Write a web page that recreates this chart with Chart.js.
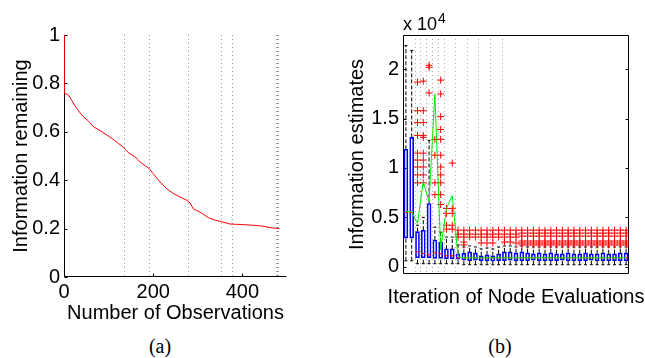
<!DOCTYPE html>
<html><head><meta charset="utf-8">
<script src="https://cdn.jsdelivr.net/npm/chart.js@4.4.0/dist/chart.umd.min.js"></script>
<style>
html,body{margin:0;padding:0;background:#fff;width:645px;height:358px;overflow:hidden;position:relative;}
canvas{position:absolute;top:0;}
#c1{left:0px}
#c2{left:325px}
.t{position:absolute;font-family:"Liberation Sans",Arial,sans-serif;color:#000;white-space:nowrap;}
.cap{position:absolute;font-family:"Liberation Serif","Times New Roman",serif;font-size:20px;line-height:20px;width:60px;text-align:center;color:#000;}
</style></head>
<body>
<canvas id="c1" width="320" height="325"></canvas>
<canvas id="c2" width="320" height="325"></canvas>
<div class="t" style="left:366px;top:284px;width:300px;text-align:center;font-size:20px;line-height:24px;">Iteration of Node Evaluations</div>
<div class="t" style="left:403px;top:15px;font-size:18px;line-height:18px;">x 10</div>
<div class="t" style="left:438px;top:11px;font-size:14px;line-height:14px;">4</div>
<div class="cap" style="left:130px;top:336px;">(a)</div>
<div class="cap" style="left:470px;top:336px;">(b)</div>
<script>
// ---------- (a) Information remaining vs number of observations ----------
const observations = [0,0,10,17,28,43,54,66,85,107,122,133,144,159,167,170,191,200,215,230,245,260,275,281,290,305,324,339,354,372,395,424,447,462,483];
const infoRemaining = [1,0.76,0.752,0.731,0.697,0.663,0.646,0.621,0.600,0.573,0.552,0.536,0.514,0.497,0.483,0.476,0.448,0.427,0.393,0.365,0.345,0.331,0.317,0.310,0.282,0.268,0.245,0.235,0.228,0.219,0.217,0.214,0.210,0.204,0.200];
const evalMarkersA = [135,191,279,353,376,476,478,480];
const obsTicks = [0,200,400];
const obsTickLabels = ['0','200','400'];
const remTicks = [0,0.2,0.4,0.6,0.8,1];
const remTickLabels = ['0','0.2','0.4','0.6','0.8','1'];

// ---------- (b) Information estimates (x 10^4) per iteration ----------
const iterations = [1,2,3,4,5,6,7,8,9,10,11,12,13,14,15,16,17,18,19,20,21,22,23,24,25,26,27,28,29,30,31,32,33,34,35,36,37,38,39];
const q1 = [0.29,0.29,0.09,0.09,0.09,0.085,0.085,0.08,0.08,0.075,
  0.065,0.06,0.065,0.06,0.06,0.055,0.06,0.06,0.065,0.06,
  0.06,0.06,0.065,0.06,0.06,0.06,0.06,0.065,0.06,0.06,
  0.06,0.06,0.065,0.06,0.06,0.06,0.06,0.06,0.06];
const q3 = [1.19,1.31,0.355,0.37,0.64,0.27,0.25,0.18,0.18,0.13,
  0.135,0.15,0.14,0.11,0.12,0.11,0.13,0.15,0.15,0.14,
  0.15,0.14,0.13,0.14,0.13,0.14,0.13,0.13,0.14,0.13,
  0.13,0.14,0.13,0.13,0.14,0.13,0.13,0.14,0.14];
const medians = [0.55,0.55,0.15,0.135,0.12,0.14,0.13,0.11,0.11,0.09,
  0.09,0.09,0.09,0.09,0.09,0.09,0.09,0.09,0.09,0.09,
  0.09,0.09,0.09,0.09,0.09,0.09,0.09,0.09,0.09,0.09,
  0.09,0.09,0.09,0.09,0.09,0.09,0.09,0.09,0.09];
const means = [0.557,0.557,0.44,0.86,0.66,1.75,0.17,0.59,0.72,0.10,
  0.09,0.09,0.09,0.09,0.09,0.09,0.09,0.09,0.09,0.09,
  0.09,0.09,0.09,0.09,0.09,0.09,0.09,0.09,0.09,0.09,
  0.09,0.09,0.09,0.09,0.09,0.09,0.09,0.09,0.09];
const upperWhisker = [2.24,2.19,0.42,0.50,1.28,0.40,0.35,0.30,0.30,0.22,
  0.20,0.21,0.20,0.18,0.19,0.18,0.20,0.21,0.21,0.20,
  0.21,0.20,0.20,0.20,0.20,0.20,0.20,0.20,0.20,0.20,
  0.20,0.20,0.20,0.20,0.20,0.20,0.20,0.20,0.20];
const lowerWhisker = [0.06,0.06,0.03,0.03,0.03,0.03,0.03,0.03,0.03,0.03,
  0.02,0.02,0.02,0.02,0.02,0.02,0.02,0.02,0.02,0.02,
  0.02,0.02,0.02,0.02,0.02,0.02,0.02,0.02,0.02,0.02,
  0.02,0.02,0.02,0.02,0.02,0.02,0.02,0.02,0.02];
const outliers = [
  [], [],
  [1.87,1.58,1.46,1.33,1.15,1.08,1.01,0.93,0.85],
  [1.88,1.58,1.46,1.33,1.31,1.15,1.08,1.01,0.93,0.85],
  [2.04,2.02,1.76],
  [1.29,1.13,0.85,0.73],
  [1.89,1.75,1.52,1.39,1.29,1.13,1.01,0.93,0.85,0.73,0.63],
  [0.59,0.54,0.42,0.38],
  [1.05,0.59,0.54,0.42,0.38],
  [0.37,0.33,0.30],
  [0.37,0.33,0.30,0.25,0.22],
  [0.37,0.33,0.30],
  [0.37,0.33,0.30],
  [0.37,0.33,0.30,0.24],
  [0.37,0.33,0.30,0.24],
  [0.37,0.33,0.30,0.24],
  [0.37,0.33,0.30],
  [0.37,0.33,0.30,0.25],
  [0.37,0.33,0.30,0.25],
  [0.37,0.33,0.30,0.24],
  [0.37,0.34,0.31,0.26,0.24,0.22],
  [0.37,0.34,0.31,0.26,0.24,0.22],
  [0.37,0.34,0.31,0.26,0.24,0.22],
  [0.37,0.34,0.31,0.26,0.24,0.22],
  [0.37,0.34,0.31,0.26,0.24,0.22],
  [0.37,0.34,0.31,0.26,0.24,0.22],
  [0.37,0.34,0.31,0.26,0.24,0.22],
  [0.37,0.34,0.31,0.26,0.24,0.22],
  [0.37,0.34,0.31,0.26,0.24,0.22],
  [0.37,0.34,0.31,0.26,0.24,0.22],
  [0.37,0.34,0.31,0.26,0.24,0.22],
  [0.37,0.34,0.31,0.26,0.24,0.22],
  [0.37,0.34,0.31,0.26,0.24,0.22],
  [0.37,0.34,0.31,0.26,0.24,0.22],
  [0.37,0.34,0.31,0.26,0.24,0.22],
  [0.37,0.34,0.31,0.26,0.24,0.22],
  [0.37,0.34,0.31,0.26,0.24,0.22],
  [0.37,0.34,0.31,0.26,0.24,0.22],
  [0.37,0.34,0.31,0.26,0.24,0.22]
];
const evalMarkersB = [2.5,3.5,4.5,5.5,6.5,7.5,9.5,11.5,13.5,15.5,17.5];
const estTicks = [0,0.5,1,1.5,2];
const estTickLabels = ['0','0.5','1','1.5','2'];

Chart.defaults.font.family = '"Liberation Sans", Arial, sans-serif';
Chart.defaults.color = '#000';

const decor = {
  id: 'decor',
  beforeDatasetsDraw(chart, args, o) {
    const {ctx, chartArea: a} = chart;
    const xs = chart.scales.x, ys = chart.scales.y;
    ctx.save();
    ctx.lineWidth = 1;
    ctx.strokeStyle = o.dotColor;
    ctx.setLineDash(o.dotDash);
    for (const v of o.vlines) {
      const px = Math.round(xs.getPixelForValue(v)) + 0.5;
      ctx.beginPath(); ctx.moveTo(px, a.top); ctx.lineTo(px, a.bottom); ctx.stroke();
    }
    ctx.setLineDash([]);
    ctx.strokeStyle = '#000';
    const L = Math.round(a.left) + 0.5, R = Math.round(a.right) - 0.5;
    const T = Math.round(a.top) + 0.5, B = Math.round(a.bottom) - 0.5;
    ctx.beginPath();
    if (o.box) { ctx.rect(L, T, R - L, B - T); }
    else { ctx.moveTo(L, T); ctx.lineTo(L, B); ctx.lineTo(R, B); }
    ctx.stroke();
    const tl = 3;
    ctx.beginPath();
    for (const v of o.yTicks) {
      const py = Math.round(ys.getPixelForValue(v)) + 0.5;
      ctx.moveTo(L, py); ctx.lineTo(L + tl, py);
      if (o.box) { ctx.moveTo(R, py); ctx.lineTo(R - tl, py); }
    }
    for (const v of o.xTicks) {
      const px = Math.round(xs.getPixelForValue(v)) + 0.5;
      ctx.moveTo(px, B); ctx.lineTo(px, B - tl);
    }
    ctx.stroke();
    ctx.restore();
  }
};

new Chart(document.getElementById('c1'), {
  type: 'line',
  data: { datasets: [{
    data: observations.map((x, i) => ({x, y: infoRemaining[i]})),
    borderColor: '#ff0000', borderWidth: 1, pointRadius: 0, tension: 0, fill: false
  }]},
  options: {
    responsive: false, animation: false, devicePixelRatio: 1, events: [],
    layout: { padding: { left: 0, top: 35, right: 33, bottom: 0 } },
    plugins: { legend: { display: false }, tooltip: { enabled: false },
      decor: { vlines: evalMarkersA, dotColor: '#999', dotDash: [1, 3], box: false, yTicks: remTicks, xTicks: obsTicks } },
    scales: {
      x: { type: 'linear', min: 0, max: 500, border: { display: false },
        grid: { display: false, drawTicks: false },
        afterBuildTicks: s => { s.ticks = obsTicks.map(v => ({value: v})); },
        afterFit: s => { s.height = 48; },
        ticks: { padding: 3, maxRotation: 0, autoSkip: false, font: { size: 20 }, callback: (v, i) => obsTickLabels[i] },
        title: { display: true, text: 'Number of Observations', font: { size: 20 }, padding: { top: 0, bottom: 0 } } },
      y: { type: 'linear', min: 0, max: 1, border: { display: false },
        grid: { display: false, drawTicks: false },
        afterBuildTicks: s => { s.ticks = remTicks.map(v => ({value: v})); },
        afterFit: s => { s.width = 64; },
        ticks: { padding: 4, autoSkip: false, font: { size: 20 }, callback: (v, i) => remTickLabels[i] },
        title: { display: true, text: 'Information remaining', font: { size: 20 }, padding: { top: 9, bottom: 0 } } }
    }
  },
  plugins: [decor]
});

const whiskerPts = [];
const capPts = [];
iterations.forEach((x, i) => {
  whiskerPts.push({x, y: q3[i]}, {x, y: upperWhisker[i]}, {x, y: null});
  whiskerPts.push({x, y: lowerWhisker[i]}, {x, y: q1[i]}, {x, y: null});
  capPts.push({x, y: upperWhisker[i]}, {x, y: lowerWhisker[i]});
});
const outlierPts = outliers.flatMap((arr, i) => arr.map(v => ({x: iterations[i], y: v})));

new Chart(document.getElementById('c2'), {
  type: 'bar',
  data: { datasets: [
    { type: 'line', data: iterations.map((x, i) => ({x, y: means[i]})), borderColor: '#00ee00', borderWidth: 1, pointRadius: 0, tension: 0, fill: false },
    { type: 'scatter', data: outlierPts, pointStyle: 'cross', pointRadius: 3.5, borderColor: '#ff0000', backgroundColor: '#ff0000', borderWidth: 1 },
    { type: 'scatter', data: iterations.map((x, i) => ({x, y: medians[i]})), pointStyle: 'line', pointRadius: 2, borderColor: '#ff0000', borderWidth: 1 },
    { type: 'scatter', data: capPts, pointStyle: 'line', pointRadius: 1.5, borderColor: '#000', borderWidth: 1 },
    { type: 'line', data: whiskerPts, borderColor: '#000', borderWidth: 1, borderDash: [4, 2], pointRadius: 0, spanGaps: false, tension: 0, fill: false },
    { type: 'bar', data: iterations.map((x, i) => ({x, y: [q1[i], q3[i]]})), borderColor: '#0000ff', borderWidth: 1, borderSkipped: false, backgroundColor: 'rgba(255,255,255,0)', barThickness: 4 }
  ]},
  options: {
    responsive: false, animation: false, devicePixelRatio: 1, events: [],
    layout: { padding: { left: 0, top: 35, right: 16, bottom: 51 } },
    plugins: { legend: { display: false }, tooltip: { enabled: false },
      decor: { vlines: evalMarkersB, dotColor: '#aaa', dotDash: [1, 3], box: true, yTicks: estTicks, xTicks: [] } },
    scales: {
      x: { type: 'linear', display: false, min: 0.5, max: 39.5, offset: false, grid: { display: false, offset: false } },
      y: { type: 'linear', min: -0.074, max: 2.347, border: { display: false },
        grid: { display: false, drawTicks: false },
        afterBuildTicks: s => { s.ticks = estTicks.map(v => ({value: v})); },
        afterFit: s => { s.width = 78; },
        ticks: { padding: 4, autoSkip: false, font: { size: 20 }, callback: (v, i) => estTickLabels[i] },
        title: { display: true, text: 'Information estimates', font: { size: 20 }, padding: { top: 20, bottom: 0 } } }
    }
  },
  plugins: [decor]
});
</script>
</body></html>
